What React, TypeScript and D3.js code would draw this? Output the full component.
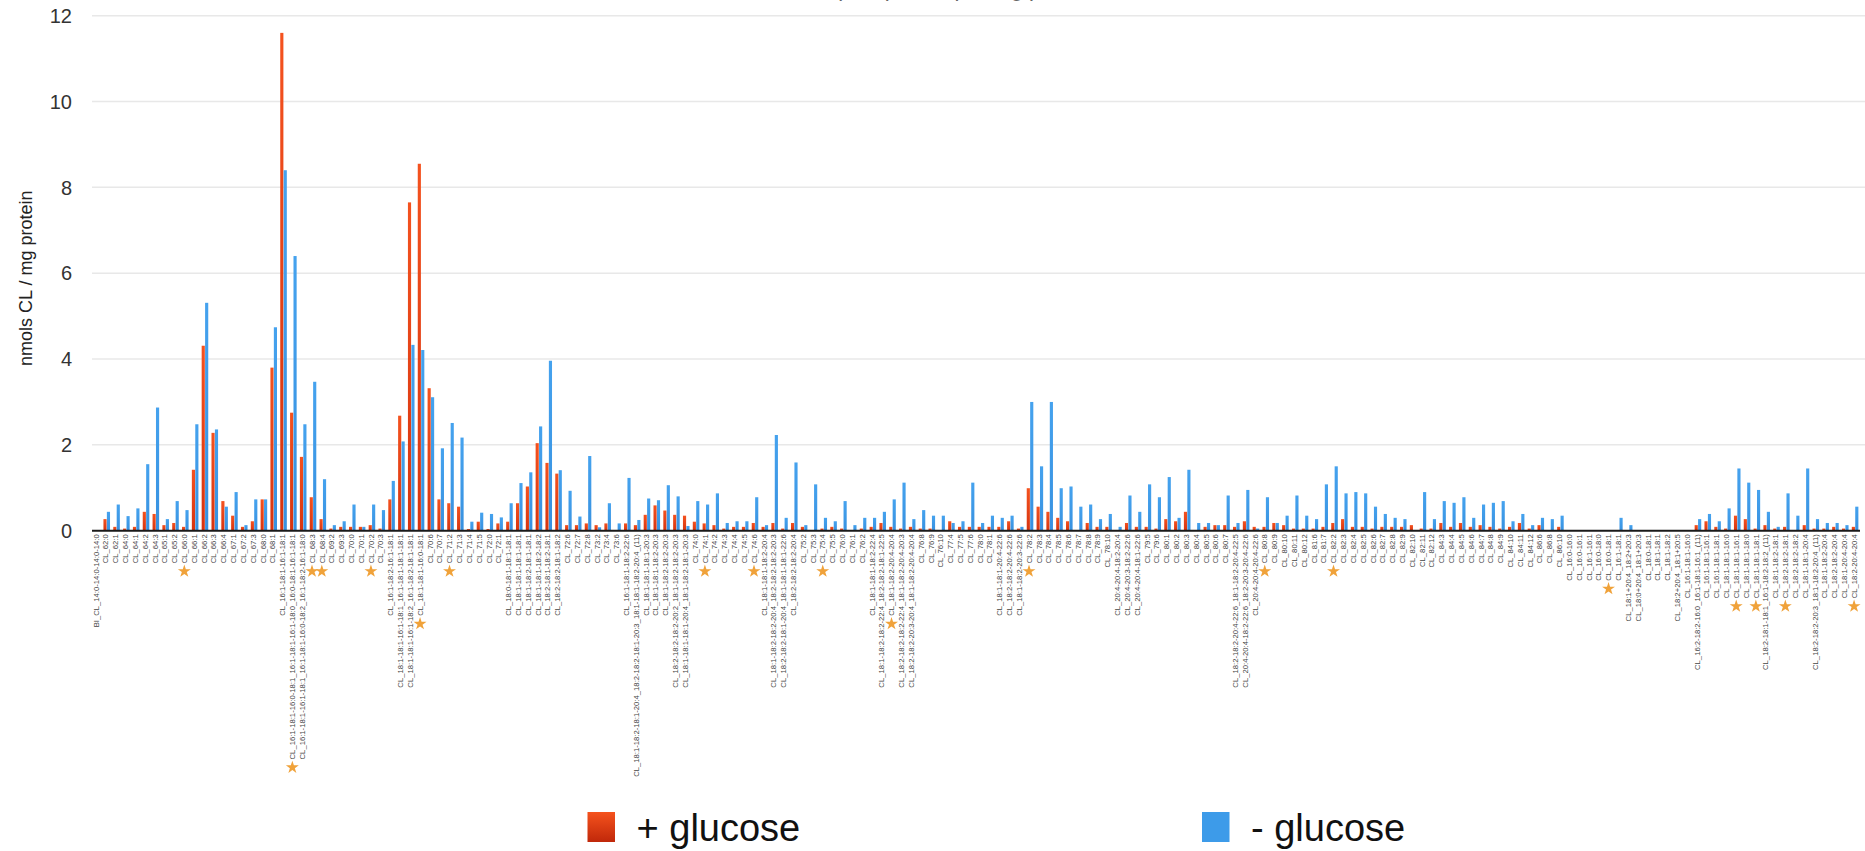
import React, { useEffect, useRef } from "react";
import * as d3 from "d3";

const WIDTH = 1865;
const HEIGHT = 851;

// Cardiolipin species (x categories)
const speciesLabels: string[] = [
  "BI_CL_14:0-14:0-14:0-14:0",
  "CL_62:0", "CL_62:1", "CL_64:0", "CL_64:1", "CL_64:2", "CL_64:3", "CL_65:1", "CL_65:2", "CL_66:0",
  "CL_66:1", "CL_66:2", "CL_66:3", "CL_66:4", "CL_67:1", "CL_67:2", "CL_67:3", "CL_68:0", "CL_68:1",
  "CL_16:1-18:1-16:1-18:1",
  "CL_16:1-18:1-16:0-18:1_16:1-18:1-16:1-18:0_16:0-18:1-16:1-18:1",
  "CL_16:1-18:1-16:1-18:1_16:1-18:1-16:0-18:2_16:1-18:2-16:1-18:0",
  "CL_68:3", "CL_68:4", "CL_69:2", "CL_69:3", "CL_70:0", "CL_70:1", "CL_70:2", "CL_70:3",
  "CL_16:1-18:2-16:1-18:1",
  "CL_18:1-18:1-16:1-18:1_16:1-18:1-18:1-18:1",
  "CL_18:1-18:1-16:1-18:2_16:1-18:2-18:1-18:1",
  "CL_18:1-18:1-16:0-18:1",
  "CL_70:6", "CL_70:7", "CL_71:2", "CL_71:3", "CL_71:4", "CL_71:5", "CL_72:0", "CL_72:1",
  "CL_18:0-18:1-18:1-18:1", "CL_18:1-18:1-18:1-18:1", "CL_18:1-18:2-18:1-18:1",
  "CL_18:1-18:1-18:2-18:2", "CL_18:2-18:1-18:2-18:1", "CL_18:2-18:2-18:1-18:2",
  "CL_72:6", "CL_72:7", "CL_72:8", "CL_73:2", "CL_73:4", "CL_73:6",
  "CL_16:1-18:1-18:2-22:6",
  "CL_18:1-18:2-18:1-20:4_18:2-18:2-18:1-20:3_18:1-18:1-18:2-20:4_(11)",
  "CL_18:1-18:1-18:1-20:3", "CL_18:1-18:1-18:2-20:3", "CL_18:1-18:2-18:2-20:3",
  "CL_18:2-18:2-18:2-20:2_18:1-18:2-18:2-20:3",
  "CL_18:1-18:1-18:1-20:4_18:1-18:2-18:1-20:3",
  "CL_74:0", "CL_74:1", "CL_74:2", "CL_74:3", "CL_74:4", "CL_74:5", "CL_74:6",
  "CL_18:1-18:1-18:2-20:4",
  "CL_18:1-18:2-18:2-20:4_18:2-18:2-18:2-20:3",
  "CL_18:2-18:2-18:1-20:4_18:1-18:1-18:1-22:6",
  "CL_18:2-18:2-18:2-20:4",
  "CL_75:2", "CL_75:3", "CL_75:4", "CL_75:5", "CL_76:0", "CL_76:1", "CL_76:2",
  "CL_18:1-18:1-18:2-22:4",
  "CL_18:1-18:2-18:2-22:4_18:2-18:2-18:1-22:5",
  "CL_18:1-18:2-20:4-20:4",
  "CL_18:2-18:2-18:2-22:4_18:1-18:2-20:4-20:3",
  "CL_18:2-18:2-20:3-20:4_18:1-18:2-20:4-20:4",
  "CL_76:8", "CL_76:9", "CL_76:10", "CL_77:4", "CL_77:5", "CL_77:6", "CL_78:0", "CL_78:1",
  "CL_18:1-18:1-20:4-22:6", "CL_18:2-18:2-20:4-22:6", "CL_18:1-18:2-20:3-22:6",
  "CL_78:2", "CL_78:3", "CL_78:4", "CL_78:5", "CL_78:6", "CL_78:7", "CL_78:8", "CL_78:9", "CL_78:10",
  "CL_20:4-20:4-18:2-20:4", "CL_20:4-20:3-18:2-22:6", "CL_20:4-20:4-18:1-22:6",
  "CL_79:5", "CL_79:6", "CL_80:1", "CL_80:2", "CL_80:3", "CL_80:4", "CL_80:5", "CL_80:6", "CL_80:7",
  "CL_18:2-18:2-20:4-22:6_18:1-18:2-20:4-22:5",
  "CL_20:4-20:4-18:2-22:6_18:2-20:3-20:4-22:6",
  "CL_20:4-20:4-20:4-22:6",
  "CL_80:8", "CL_80:9", "CL_80:10", "CL_80:11", "CL_80:12", "CL_81:6", "CL_81:7",
  "CL_82:2", "CL_82:3", "CL_82:4", "CL_82:5", "CL_82:6", "CL_82:7", "CL_82:8", "CL_82:9",
  "CL_82:10", "CL_82:11", "CL_82:12",
  "CL_84:3", "CL_84:4", "CL_84:5", "CL_84:6", "CL_84:7", "CL_84:8", "CL_84:9", "CL_84:10",
  "CL_84:11", "CL_84:12", "CL_86:6", "CL_86:8", "CL_86:10",
  "CL_16:0-16:0", "CL_16:0-16:1", "CL_16:1-16:1", "CL_16:0-18:0", "CL_16:0-18:1", "CL_16:1-18:1",
  "CL_18:1+20:4_18:2+20:3", "CL_18:0+20:4_18:1+20:3",
  "CL_18:0-18:1", "CL_18:1-18:1", "CL_18:1-18:2",
  "CL_18:2+20:4_18:1+20:5",
  "CL_16:1-18:1-16:0",
  "CL_16:2-18:2-16:0_16:1-18:1-16:1_(11)",
  "CL_16:1-18:1-16:1", "CL_16:1-18:1-18:1", "CL_18:1-18:1-16:0", "CL_18:1-18:1-16:1",
  "CL_18:1-18:1-18:0", "CL_18:1-18:1-18:1",
  "CL_18:2-18:1-18:1_16:1-18:2-18:2_(11)",
  "CL_18:1-18:2-18:1", "CL_18:2-18:2-18:1", "CL_18:2-18:2-18:2", "CL_18:1-18:1-20:4",
  "CL_18:2-18:2-20:3_18:1-18:2-20:4_(11)",
  "CL_18:1-18:2-20:4", "CL_18:2-18:2-20:4", "CL_18:1-20:4-20:4", "CL_18:2-20:4-20:4",
];

// nmols CL / mg protein, grown with glucose
const plusGlucose: (number | null)[] = [
  null, 0.27, 0.09, 0.05, 0.09, 0.44, 0.39, 0.13, 0.18, 0.09,
  1.42, 4.31, 2.28, 0.69, 0.35, 0.09, 0.22, 0.73, 3.8, 11.6,
  2.75, 1.72, 0.78, 0.27, 0.05, 0.09, 0.09, 0.09, 0.13, 0.05,
  0.73, 2.68, 7.65, 8.55, 3.32, 0.73, 0.64, 0.56, 0.04, 0.21,
  0.04, 0.17, 0.21, 0.64, 1.03, 2.04, 1.58, 1.33, 0.13, 0.13,
  0.17, 0.13, 0.17, 0, 0.17, 0.13, 0.37, 0.59, 0.47, 0.37,
  0.35, 0.21, 0.17, 0.13, 0.05, 0.09, 0.09, 0.18, 0.09, 0.18,
  0.05, 0.18, 0.09, 0, 0.05, 0.09, 0.05, 0, 0.05, 0.09,
  0.18, 0.09, 0.05, 0.09, 0.05, 0.05, 0, 0.22, 0.09, 0.09,
  0.09, 0.09, 0.09, 0.22, 0.05, 0.99, 0.56, 0.44, 0.3, 0.22,
  0, 0.18, 0.09, 0.09, 0, 0.18, 0.09, 0.09, 0.05, 0.27,
  0.22, 0.44, 0, 0.09, 0.13, 0.13, 0.09, 0.22, 0.09, 0.09,
  0.18, 0.13, 0.05, 0.05, 0.05, 0.09, 0.18, 0.27, 0.09, 0.09,
  0.05, 0.09, 0.09, 0.09, 0.13, 0.05, 0.05, 0.18, 0.09, 0.18,
  0.09, 0.13, 0.09, 0.05, 0.09, 0.18, 0.05, 0.13, 0, 0.09,
  null, null, null, null, null, 0, 0, null, null, null,
  null, null, null, 0.13, 0.22, 0.09, 0.05, 0.35, 0.27, 0.05,
  0.13, 0.05, 0.09, 0, 0.13, 0.05, 0.05, 0.09, 0.05, 0.09,
];

// nmols CL / mg protein, grown without glucose
const minusGlucose: (number | null)[] = [
  null, 0.44, 0.61, 0.34, 0.52, 1.55, 2.87, 0.27, 0.69, 0.48,
  2.48, 5.31, 2.36, 0.56, 0.9, 0.13, 0.73, 0.73, 4.74, 8.4,
  6.4, 2.48, 3.47, 1.2, 0.13, 0.22, 0.61, 0.09, 0.61, 0.48,
  1.16, 2.08, 4.33, 4.21, 3.11, 1.92, 2.51, 2.17, 0.21, 0.42,
  0.39, 0.31, 0.64, 1.11, 1.36, 2.43, 3.96, 1.41, 0.93, 0.33,
  1.74, 0.08, 0.64, 0.17, 1.23, 0.25, 0.75, 0.71, 1.06, 0.8,
  0.11, 0.69, 0.61, 0.87, 0.18, 0.22, 0.22, 0.78, 0.13, 2.23,
  0.3, 1.59, 0.13, 1.08, 0.3, 0.22, 0.69, 0.13, 0.3, 0.3,
  0.44, 0.73, 1.12, 0.27, 0.48, 0.35, 0.35, 0.18, 0.22, 1.12,
  0.18, 0.35, 0.3, 0.35, 0.09, 3.0, 1.5, 3.0, 0.99, 1.03,
  0.56, 0.61, 0.27, 0.39, 0.09, 0.82, 0.44, 1.08, 0.78, 1.25,
  0.3, 1.42, 0.18, 0.18, 0.13, 0.82, 0.18, 0.95, 0.05, 0.78,
  0.18, 0.35, 0.82, 0.35, 0.27, 1.08, 1.5, 0.87, 0.9, 0.87,
  0.56, 0.39, 0.3, 0.27, 0, 0.9, 0.27, 0.69, 0.65, 0.78,
  0.3, 0.61, 0.65, 0.69, 0.22, 0.39, 0.13, 0.3, 0.27, 0.35,
  null, null, null, null, null, 0.3, 0.13, null, null, null,
  null, null, null, 0.27, 0.39, 0.22, 0.52, 1.45, 1.12, 0.95,
  0.44, 0.09, 0.87, 0.35, 1.45, 0.27, 0.18, 0.18, 0.13, 0.56,
];

// species flagged with a star under their label
const starredSpecies: string[] = [
  "CL_66:0", "CL_16:1-18:1-16:0-18:1_16:1-18:1-16:1-18:0_16:0-18:1-16:1-18:1",
  "CL_68:3", "CL_68:4", "CL_70:2", "CL_18:1-18:1-16:0-18:1", "CL_71:2",
  "CL_74:1", "CL_74:6", "CL_75:4", "CL_18:1-18:2-20:4-20:4", "CL_78:2",
  "CL_80:8", "CL_82:2", "CL_16:0-18:1", "CL_18:1-18:1-16:1", "CL_18:1-18:1-18:1",
  "CL_18:2-18:2-18:1", "CL_18:2-20:4-20:4",
];

const yTicks: number[] = [0, 2, 4, 6, 8, 10, 12];
const seriesNames: string[] = ["+ glucose", "- glucose"];

const FONT = "'Liberation Sans', Arial, Helvetica, sans-serif";

export default function App() {
  const ref = useRef<SVGSVGElement | null>(null);

  useEffect(() => {
    const svg = d3.select(ref.current);
    svg.selectAll("*").remove();

    const left = 92;
    const right = 1860;
    const y0 = 530.7;
    const yTop = 15.7;

    const defs = svg.append("defs");
    const red = defs.append("linearGradient").attr("id", "plusFill")
      .attr("x1", 0).attr("y1", 0).attr("x2", 0).attr("y2", 1);
    red.append("stop").attr("offset", "0%").attr("stop-color", "#f4521f");
    red.append("stop").attr("offset", "100%").attr("stop-color", "#d63410");
    const redKey = defs.append("linearGradient").attr("id", "plusKey")
      .attr("x1", 0).attr("y1", 0).attr("x2", 0).attr("y2", 1);
    redKey.append("stop").attr("offset", "0%").attr("stop-color", "#f5521d");
    redKey.append("stop").attr("offset", "100%").attr("stop-color", "#c0280a");
    const blue = defs.append("linearGradient").attr("id", "minusFill")
      .attr("x1", 0).attr("y1", 0).attr("x2", 0).attr("y2", 1);
    blue.append("stop").attr("offset", "0%").attr("stop-color", "#45a2ee");
    blue.append("stop").attr("offset", "100%").attr("stop-color", "#3791e0");

    const idx = speciesLabels.map((_, i) => String(i));
    const x = d3.scaleBand<string>().domain(idx).range([left, right])
      .paddingInner(0.33).paddingOuter(0.165);
    const xs = d3.scaleBand<string>().domain(["plus", "minus"])
      .range([0, x.bandwidth()]).paddingInner(0.08);
    const y = d3.scaleLinear().domain([0, 12]).range([y0, yTop]);

    // gridlines and tick labels
    const grid = svg.append("g");
    grid.selectAll("line").data(yTicks.filter((t) => t > 0)).join("line")
      .attr("x1", left).attr("x2", WIDTH)
      .attr("y1", (d) => y(d)).attr("y2", (d) => y(d))
      .attr("stroke", "#e8e8e8").attr("stroke-width", 1.5);
    grid.selectAll("text").data(yTicks).join("text")
      .attr("x", 72).attr("y", (d) => y(d)).attr("dy", "0.36em")
      .attr("text-anchor", "end").attr("font-family", FONT)
      .attr("font-size", 20).attr("fill", "#333").text((d) => String(d));

    // chart title, sitting above the top edge
    svg.append("text").attr("x", 930).attr("y", -4).attr("text-anchor", "middle")
      .attr("font-family", FONT).attr("font-size", 22).attr("fill", "#666")
      .text("Cardiolipin species per mg protein");

    // y axis title
    svg.append("text")
      .attr("transform", `translate(26,${(y(0) + y(12)) / 2 + 5}) rotate(-90)`)
      .attr("dy", "0.35em").attr("text-anchor", "middle")
      .attr("font-family", FONT).attr("font-size", 18).attr("fill", "#222")
      .text("nmols CL / mg protein");

    // bars
    const bars = svg.append("g");
    const series: { key: string; values: (number | null)[]; fill: string }[] = [
      { key: "plus", values: plusGlucose, fill: "url(#plusFill)" },
      { key: "minus", values: minusGlucose, fill: "url(#minusFill)" },
    ];
    series.forEach((s) => {
      const rows = s.values
        .map((v, i) => ({ v, i }))
        .filter((d) => d.v !== null && (d.v as number) > 0) as { v: number; i: number }[];
      bars.append("g").selectAll("rect").data(rows).join("rect")
        .attr("x", (d) => (x(String(d.i)) as number) + (xs(s.key) as number))
        .attr("width", xs.bandwidth())
        .attr("y", (d) => y(d.v))
        .attr("height", (d) => y(0) - y(d.v))
        .attr("fill", s.fill);
    });

    // baseline
    svg.append("line").attr("x1", left).attr("x2", right)
      .attr("y1", y(0)).attr("y2", y(0))
      .attr("stroke", "#1a1a1a").attr("stroke-width", 2);

    // category labels + stars
    const labelTop = y(0) + 3.5;
    const lab = svg.append("g");
    const star = d3.symbol().type(d3.symbolStar).size(52);
    speciesLabels.forEach((name, i) => {
      const cx = (x(String(i)) as number) + x.bandwidth() / 2 - 1;
      const t = lab.append("text")
        .attr("transform", `translate(${cx},${labelTop}) rotate(-90)`)
        .attr("dy", "0.35em").attr("text-anchor", "end")
        .attr("font-family", FONT).attr("font-size", 7.7).attr("fill", "#444")
        .text(name);
      if (starredSpecies.includes(name)) {
        const len = (t.node() as SVGTextElement).getComputedTextLength();
        lab.append("path").attr("d", star() as string)
          .attr("transform", `translate(${cx},${labelTop + len + 8})`)
          .attr("fill", "#f0a23a");
      }
    });

    // legend
    const legend = svg.append("g");
    const keyX = [587.5, 1202];
    const keyFill = ["url(#plusKey)", "#3d9be9"];
    seriesNames.forEach((n, k) => {
      legend.append("rect").attr("x", keyX[k]).attr("y", 812).attr("width", 27.5)
        .attr("height", 30).attr("fill", keyFill[k]);
      legend.append("text").attr("x", keyX[k] + 49).attr("y", 841)
        .attr("font-family", FONT).attr("font-size", 38).attr("fill", "#111")
        .text(n);
    });
  }, []);

  return (
    <svg
      ref={ref}
      width={WIDTH}
      height={HEIGHT}
      style={{ position: "absolute", left: 0, top: 0, background: "#fff" }}
    />
  );
}
